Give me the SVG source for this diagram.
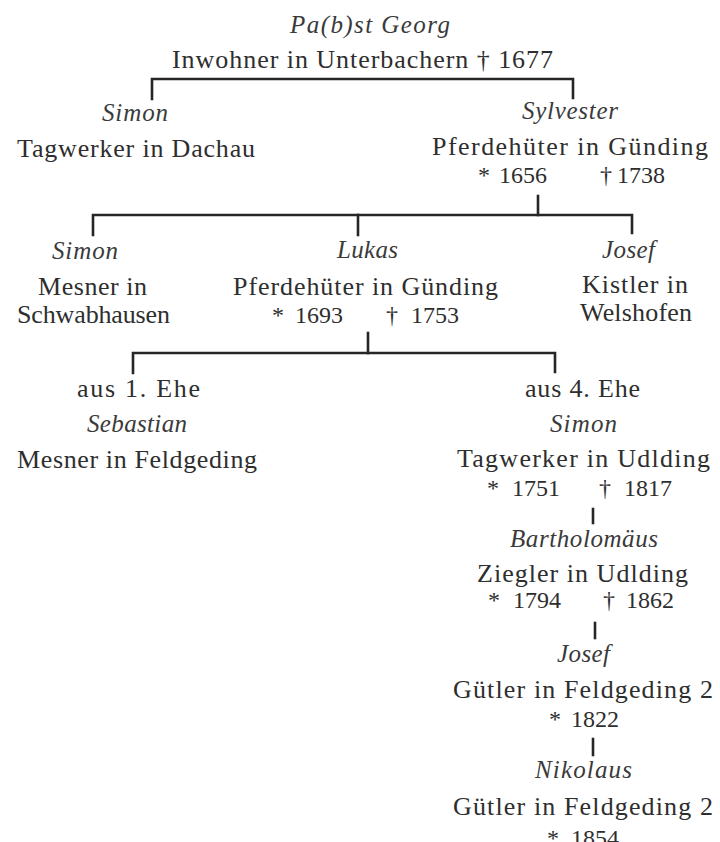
<svg xmlns="http://www.w3.org/2000/svg" width="720" height="842" viewBox="0 0 720 842">
<style>
text{font-family:"Liberation Serif","Times New Roman",serif;fill:#2e2e2e;font-size:26px}
.n{font-style:italic;font-size:25px;fill:#3a3a3a}
.d{font-size:24px}
.c{stroke:#262626;stroke-width:2.6;fill:none;stroke-linecap:square}
</style>
<rect width="720" height="842" fill="#fff"/>
<g id="connectors">
<path class="c" d="M152 99V79H573V98"/>
<path class="c" d="M538 196V215"/>
<path class="c" d="M93 235V215H632V233"/>
<path class="c" d="M358 215V235"/>
<path class="c" d="M368 333V353"/>
<path class="c" d="M133 373V353H555V372"/>
<path class="c" d="M593 509V523"/>
<path class="c" d="M595 623V638"/>
<path class="c" d="M593 739V755"/>
</g>
<g id="georg">
<text class="n" x="290" y="33" textLength="160" lengthAdjust="spacing">Pa(b)st Georg</text>
<text x="172" y="68" textLength="381" lengthAdjust="spacing">Inwohner in Unterbachern † 1677</text>
</g>
<g id="simon1">
<text class="n" x="102" y="121" textLength="66" lengthAdjust="spacing">Simon</text>
<text x="17" y="157" textLength="238" lengthAdjust="spacing">Tagwerker in Dachau</text>
</g>
<g id="sylvester">
<text class="n" x="522" y="119" textLength="96" lengthAdjust="spacing">Sylvester</text>
<text x="432" y="155" textLength="276" lengthAdjust="spacing">Pferdehüter in Günding</text>
<text class="d" y="183"><tspan x="478">*</tspan><tspan x="499">1656</tspan><tspan x="600">†</tspan><tspan x="617">1738</tspan></text>
</g>
<g id="simon2">
<text class="n" x="52" y="259" textLength="66" lengthAdjust="spacing">Simon</text>
<text x="38" y="295" textLength="109" lengthAdjust="spacing">Mesner in</text>
<text x="17" y="323" textLength="153" lengthAdjust="spacing">Schwabhausen</text>
</g>
<g id="lukas">
<text class="n" x="337" y="258" textLength="61" lengthAdjust="spacing">Lukas</text>
<text x="233" y="295" textLength="265" lengthAdjust="spacing">Pferdehüter in Günding</text>
<text class="d" y="323"><tspan x="272">*</tspan><tspan x="295">1693</tspan><tspan x="386">†</tspan><tspan x="411">1753</tspan></text>
</g>
<g id="josef1">
<text class="n" x="602" y="258" textLength="53" lengthAdjust="spacing">Josef</text>
<text x="582" y="293" textLength="106" lengthAdjust="spacing">Kistler in</text>
<text x="580" y="321" textLength="112" lengthAdjust="spacing">Welshofen</text>
</g>
<g id="sebastian">
<text x="77" y="397" textLength="123" lengthAdjust="spacing">aus 1. Ehe</text>
<text class="n" x="87" y="432" textLength="100" lengthAdjust="spacing">Sebastian</text>
<text x="17" y="468" textLength="240" lengthAdjust="spacing">Mesner in Feldgeding</text>
</g>
<g id="simon3">
<text x="525" y="397" textLength="115" lengthAdjust="spacing">aus 4. Ehe</text>
<text class="n" x="550" y="432" textLength="67" lengthAdjust="spacing">Simon</text>
<text x="457" y="467" textLength="253" lengthAdjust="spacing">Tagwerker in Udlding</text>
<text class="d" y="496"><tspan x="487">*</tspan><tspan x="512">1751</tspan><tspan x="599">†</tspan><tspan x="624">1817</tspan></text>
</g>
<g id="bartholomaeus">
<text class="n" x="510" y="547" textLength="148" lengthAdjust="spacing">Bartholomäus</text>
<text x="477" y="582" textLength="211" lengthAdjust="spacing">Ziegler in Udlding</text>
<text class="d" y="608"><tspan x="488">*</tspan><tspan x="513">1794</tspan><tspan x="603">†</tspan><tspan x="626">1862</tspan></text>
</g>
<g id="josef2">
<text class="n" x="557" y="662" textLength="53" lengthAdjust="spacing">Josef</text>
<text x="453" y="698" textLength="260" lengthAdjust="spacing">Gütler in Feldgeding 2</text>
<text class="d" y="727"><tspan x="549">*</tspan><tspan x="571">1822</tspan></text>
</g>
<g id="nikolaus">
<text class="n" x="535" y="778" textLength="97" lengthAdjust="spacing">Nikolaus</text>
<text x="453" y="815" textLength="260" lengthAdjust="spacing">Gütler in Feldgeding 2</text>
<text class="d" y="846"><tspan x="547">*</tspan><tspan x="571">1854</tspan></text>
</g>
</svg>
